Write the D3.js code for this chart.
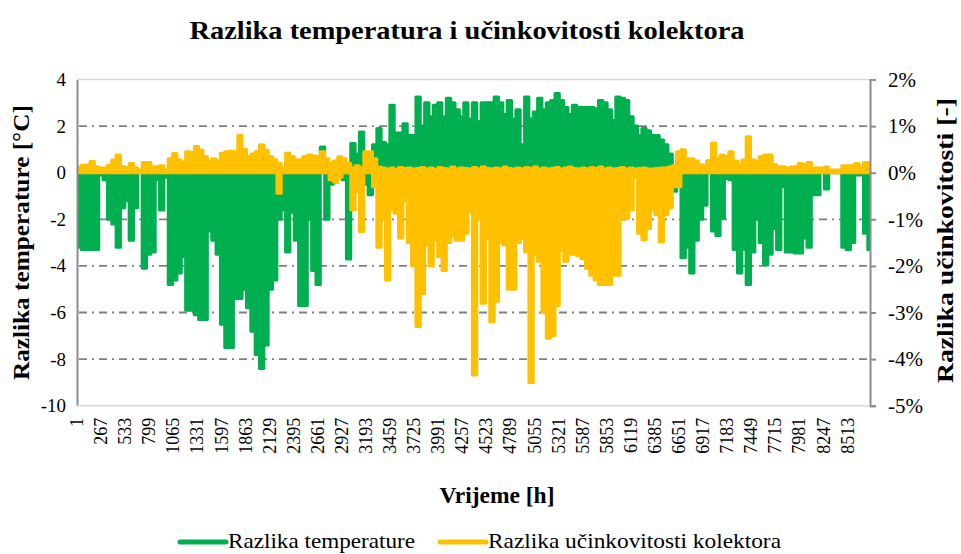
<!DOCTYPE html>
<html>
<head>
<meta charset="utf-8">
<script src="https://cdn.jsdelivr.net/npm/d3@7"></script>
<style>
  html, body { margin: 0; padding: 0; background: #fff; }
  svg { display: block; }
</style>
</head>
<body>
<svg id="chart" width="961" height="554"></svg>
<script>
// Each value covers one 48-hour block of the year (block i starts at hour 48*i).
const blockHours = 48;
const yearHours = 8760;

// Temperature difference [°C], signed extreme of each block
const tempDiff = [
  -3.2,-3.3,-3.3,-3.3,-3.3,-0.1,-0.3,-2.0,-2.2,-3.2,
  -1.5,-1.2,-2.9,-1.5,0,-4.1,-3.5,-3.4,-0.3,-1.6,
  -0.2,-4.8,-4.6,-4.3,-3.6,-5.9,-5.9,-6.1,-6.3,-6.3,
  -2.5,-2.9,-3.5,-6.5,-7.5,-7.5,-5.4,-5.4,-5.0,-5.8,
  -6.8,-7.8,-8.4,-7.4,-5.0,-4.6,-2.0,-1.6,-3.4,-1.7,
  -2.9,-5.7,-5.7,-2.0,-4.2,-4.8,1.1,-2.0,-0.5,-0.4,
  0.4,-0.3,-3.7,1.25,0.8,1.75,-0.5,-0.95,1.2,1.9,
  1.3,1.2,2.9,1.7,1.7,2.1,1.6,1.6,3.25,2.0,
  3.0,2.4,2.9,3.0,2.4,3.2,3.0,2.7,2.4,3.0,
  2.3,3.0,2.2,3.0,3.0,3.0,3.25,3.0,2.5,3.1,
  2.3,2.7,1.2,3.25,2.3,2.6,3.2,2.7,3.0,3.1,
  3.4,3.1,2.8,2.5,2.9,2.8,2.8,2.8,2.8,2.75,
  3.1,3.0,2.7,2.25,3.25,3.2,3.1,2.4,2.0,1.6,
  1.9,1.8,1.6,1.6,1.4,1.2,0.8,-0.8,0.5,-3.65,
  -3.2,-4.3,-2.9,-2.0,-1.4,0.5,-2.5,-2.7,-1.95,-0.25,
  -0.3,-3.3,-4.3,-3.3,-4.8,-3.4,-2.0,-3.0,-3.95,-3.5,
  -2.4,-3.3,-0.6,-3.4,-3.4,-3.45,-3.45,-2.8,-3.2,-0.95,
  -0.95,0,-0.7,0,0,0,-3.2,-3.3,-3.0,-0.1,
  -0.1,-2.6,-3.3
];

// Collector efficiency difference [%], highest value of each block
const effDiffHigh = [
  0.13,0.16,0.16,0.24,0.13,0.1,0.1,0.16,0.27,0.38,
  0.13,0.11,0.2,0.1,0.06,0.22,0.22,0.13,0.13,0.15,
  0.06,0.3,0.41,0.27,0.22,0.45,0.43,0.56,0.48,0.35,
  0.25,0.3,0.25,0.42,0.45,0.46,0.45,0.8,0.5,0.35,
  0.4,0.45,0.6,0.48,0.35,0.28,0.2,0.1,0.42,0.35,
  0.28,0.28,0.35,0.38,0.36,0.35,0.45,0.3,0.2,0.25,
  0.34,0.3,0.2,0.1,0.15,0.1,0.45,0.45,0.3,0.12,
  0.1,0.08,0.1,0.07,0.11,0.09,0.1,0.08,0.09,0.11,
  0.08,0.1,0.07,0.11,0.09,0.08,0.12,0.08,0.1,0.09,
  0.08,0.11,0.08,0.12,0.09,0.08,0.1,0.08,0.12,0.09,
  0.08,0.1,0.08,0.11,0.09,0.12,0.08,0.1,0.08,0.09,
  0.11,0.08,0.1,0.12,0.09,0.08,0.1,0.08,0.11,0.09,
  0.12,0.08,0.1,0.08,0.09,0.11,0.08,0.1,0.08,0.09,
  0.1,0.08,0.08,0.09,0.1,0.1,0.12,0.15,0.45,0.49,
  0.3,0.3,0.25,0.17,0.15,0.25,0.63,0.3,0.38,0.35,
  0.45,0.25,0.17,0.27,0.77,0.27,0.24,0.34,0.38,0.38,
  0.17,0.13,0.13,0.1,0.12,0.13,0.2,0.17,0.22,0.1,
  0.1,0.1,0.12,0.06,0.06,0.06,0.15,0.15,0.15,0.2,
  0.1,0.22,0.22
];

// Collector efficiency difference [%], lowest value of each block
const effDiffLow = [
  0,0,0,0,0,0,0,0,0,0,
  0,0,0,0,0,0,0,0,0,0,
  0,0,0,0,0,0,0,0,0,0,
  0,0,0,0,0,0,0,0,0,0,
  0,0,0,0,0,0,-0.44,0,0,0,
  0,0,0,0,0,0,0,0,-0.15,-0.2,
  -0.1,0,0,-0.8,-0.4,-1.26,0,0,-0.3,-1.6,
  -1.0,-2.3,-0.8,-0.87,-1.4,-0.6,-1.5,-2.0,-3.3,-2.6,
  -1.55,-2.0,-1.44,-1.8,-2.1,-1.5,-1.34,-1.45,-1.45,-1.3,
  -0.84,-4.34,-1.0,-2.8,-1.4,-3.2,-2.76,-1.5,-1.55,-2.5,
  -2.5,-1.5,-1.4,-1.7,-4.5,-1.75,-1.9,-3.0,-3.55,-3.5,
  -2.85,-1.66,-1.9,-1.75,-1.75,-1.78,-1.84,-2.05,-2.2,-2.3,
  -2.4,-2.4,-2.4,-2.2,-2.2,-1.0,-0.98,-0.8,-0.1,-1.3,
  -1.44,-1.2,-0.8,-0.9,-1.48,-0.9,-0.76,-0.3,-0.3,0,
  0,0,0,0,0,0,0,0,0,0,
  0,0,0,0,0,0,0,0,0,0,
  0,0,0,0,0,0,0,0,0,0,
  0,0,0,0,0,0,0,0,0,0,
  0,0,0
];

// Axis ticks
const tempTicks = [4, 2, 0, -2, -4, -6, -8, -10];
const effTicks = [2, 1, 0, -1, -2, -3, -4, -5];
const hourLabels = [1,267,533,799,1065,1331,1597,1863,2129,2395,2661,2927,3193,3459,
  3725,3991,4257,4523,4789,5055,5321,5587,5853,6119,6385,6651,6917,7183,7449,7715,
  7981,8247,8513];

const colors = { temp: "#00B050", eff: "#FFC000", grid: "#808080", axis: "#8c8c8c" };
const serifFace = "'Liberation Serif', 'Times New Roman', serif";

const svg = d3.select("#chart");
const plot = { left: 77, right: 870, top: 79.5, bottom: 405.7 };

const x = d3.scaleLinear().domain([0, yearHours]).range([plot.left, plot.right]);
const yTemp = d3.scaleLinear().domain([-10, 4]).range([plot.bottom, plot.top]);
const yEff = d3.scaleLinear().domain([-5, 2]).range([plot.bottom, plot.top]);

function label(sel) {
  return sel.attr("font-family", serifFace).attr("fill", "#000");
}

// Title
svg.append("text")
  .attr("x", 467).attr("y", 39)
  .attr("text-anchor", "middle")
  .attr("font-weight", "bold").attr("font-size", 25)
  .attr("textLength", 555).attr("lengthAdjust", "spacingAndGlyphs")
  .call(label)
  .text("Razlika temperatura i učinkovitosti kolektora");

// Axis titles
svg.append("text")
  .attr("transform", `translate(29,${(plot.top + plot.bottom) / 2}) rotate(-90)`)
  .attr("text-anchor", "middle").attr("font-weight", "bold").attr("font-size", 24)
  .attr("textLength", 275).attr("lengthAdjust", "spacingAndGlyphs")
  .call(label)
  .text("Razlika temperature [°C]");

svg.append("text")
  .attr("transform", `translate(953,${(plot.top + plot.bottom) / 2 - 2}) rotate(-90)`)
  .attr("text-anchor", "middle").attr("font-weight", "bold").attr("font-size", 24)
  .attr("textLength", 285).attr("lengthAdjust", "spacingAndGlyphs")
  .call(label)
  .text("Razlika učinkovitosti [-]");

svg.append("text")
  .attr("x", 497).attr("y", 503)
  .attr("text-anchor", "middle").attr("font-weight", "bold").attr("font-size", 23)
  .attr("textLength", 115).attr("lengthAdjust", "spacingAndGlyphs")
  .call(label)
  .text("Vrijeme [h]");

// Legend
const legendItems = [
  { name: "Razlika temperature", color: colors.temp, x: 180, w: 187 },
  { name: "Razlika učinkovitosti kolektora", color: colors.eff, x: 440, w: 293 }
];
legendItems.forEach(item => {
  svg.append("line").attr("x1", item.x).attr("x2", item.x + 46)
    .attr("y1", 542).attr("y2", 542)
    .attr("stroke", item.color).attr("stroke-width", 5).attr("stroke-linecap", "round");
  svg.append("text").attr("x", item.x + 48).attr("y", 548)
    .attr("font-size", 21)
    .attr("textLength", item.w).attr("lengthAdjust", "spacingAndGlyphs")
    .call(label)
    .text(item.name);
});

// Plot frame top line
svg.append("line").attr("x1", plot.left).attr("x2", plot.right)
  .attr("y1", plot.top).attr("y2", plot.top)
  .attr("stroke", "#d9d9d9").attr("stroke-width", 1.5);

// Gridlines (dash-dot)
svg.append("g").selectAll("line")
  .data(tempTicks.filter(t => t !== 4 && t !== -10))
  .join("line")
  .attr("x1", plot.left + 2).attr("x2", plot.right - 2)
  .attr("y1", d => yTemp(d)).attr("y2", d => yTemp(d))
  .attr("stroke", colors.grid).attr("stroke-width", 1.8)
  .attr("stroke-dasharray", "8,5,2,5");

// Series drawn as blocks between each block's low and high value
function blocks(lowArr, highArr) {
  const pts = lowArr.map((lo, i) => ({ h: i * blockHours, lo: lo, hi: highArr[i] }));
  const last = pts[pts.length - 1];
  pts.push({ h: yearHours, lo: last.lo, hi: last.hi });
  return pts;
}

svg.append("clipPath").attr("id", "plotclip")
  .append("rect").attr("x", plot.left).attr("y", plot.top - 2)
  .attr("width", plot.right - plot.left).attr("height", plot.bottom - plot.top + 2);

const series = svg.append("g").attr("clip-path", "url(#plotclip)");

const tempArea = d3.area()
  .x(d => x(d.h)).y0(d => yTemp(d.lo)).y1(d => yTemp(d.hi))
  .curve(d3.curveStepAfter);
const effArea = d3.area()
  .x(d => x(d.h)).y0(d => yEff(d.lo)).y1(d => yEff(d.hi))
  .curve(d3.curveStepAfter);

series.append("path")
  .datum(blocks(tempDiff.map(v => Math.min(v, 0)), tempDiff.map(v => Math.max(v, 0))))
  .attr("d", tempArea)
  .attr("fill", colors.temp).attr("stroke", colors.temp)
  .attr("stroke-width", 3).attr("stroke-linejoin", "round");

series.append("path")
  .datum(blocks(effDiffLow, effDiffHigh))
  .attr("d", effArea)
  .attr("fill", colors.eff).attr("stroke", colors.eff)
  .attr("stroke-width", 3).attr("stroke-linejoin", "round");

// Left axis
const leftAxis = svg.append("g").attr("transform", `translate(${plot.left},0)`)
  .call(d3.axisLeft(yTemp).tickValues(tempTicks).tickSize(0).tickPadding(11)
    .tickFormat(d => d < 0 ? "-" + Math.abs(d) : d));
leftAxis.select(".domain").attr("stroke", colors.axis).attr("stroke-width", 2);
leftAxis.selectAll("text").attr("font-size", 19).call(label);

// Right axis
const rightAxis = svg.append("g").attr("transform", `translate(${plot.right},0)`)
  .call(d3.axisRight(yEff).tickValues(effTicks).tickSize(6).tickPadding(13)
    .tickFormat(d => (d < 0 ? "-" + Math.abs(d) : d) + "%"));
rightAxis.select(".domain").attr("stroke", colors.axis).attr("stroke-width", 2);
rightAxis.selectAll(".tick line").attr("stroke", colors.axis).attr("stroke-width", 2);
rightAxis.selectAll("text").attr("font-size", 21).attr("x", 18).call(label);

// Bottom axis
svg.append("line").attr("x1", plot.left).attr("x2", plot.right)
  .attr("y1", plot.bottom).attr("y2", plot.bottom)
  .attr("stroke", "#d9d9d9").attr("stroke-width", 1.5);

svg.append("g").selectAll("text")
  .data(hourLabels)
  .join("text")
  .attr("transform", d => `translate(${x(d - 0.5) + 6},${plot.bottom + 12}) rotate(-90)`)
  .attr("text-anchor", "end")
  .attr("font-size", 18)
  .call(label)
  .text(d => d);
</script>
</body>
</html>
